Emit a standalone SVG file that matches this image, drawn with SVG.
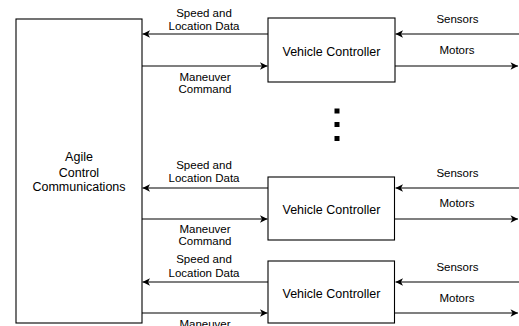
<svg xmlns="http://www.w3.org/2000/svg" width="519" height="326" viewBox="0 0 519 326">
<style>
.box{fill:#fff;stroke:#000;stroke-width:1.1}
.ln{fill:none;stroke:#000;stroke-width:1.2;marker-end:url(#ah)}
.lbl{font-family:"Liberation Sans",Arial,sans-serif;font-size:11.5px;fill:#000;text-anchor:middle}
.big{font-family:"Liberation Sans",Arial,sans-serif;font-size:12.5px;fill:#000;text-anchor:middle}
</style>
<defs>
<marker id="ah" markerUnits="userSpaceOnUse" markerWidth="10" markerHeight="10" viewBox="-8 -5 10 10" refX="0" refY="0" orient="auto">
<path d="M0,0 L-7.5,-3.8 L-5.5,0 L-7.5,3.8 Z" fill="#000"/>
</marker>
</defs>
<rect width="519" height="326" fill="#fff"/>
<g id="connectors">
<line class="ln" x1="268" y1="34" x2="142.5" y2="34"/>
<line class="ln" x1="142" y1="66" x2="267.5" y2="66"/>
<line class="ln" x1="519" y1="34" x2="395.5" y2="34"/>
<line class="ln" x1="395" y1="66" x2="518" y2="66"/>
<line class="ln" x1="268" y1="188" x2="142.5" y2="188"/>
<line class="ln" x1="142" y1="219" x2="267.5" y2="219"/>
<line class="ln" x1="519" y1="188" x2="395.5" y2="188"/>
<line class="ln" x1="395" y1="219" x2="518" y2="219"/>
<line class="ln" x1="268" y1="282" x2="142.5" y2="282"/>
<line class="ln" x1="142" y1="313" x2="267.5" y2="313"/>
<line class="ln" x1="519" y1="282" x2="395.5" y2="282"/>
<line class="ln" x1="395" y1="313" x2="518" y2="313"/>
<g id="connector-labels">
<text class="lbl" x="204" y="16.6">Speed and</text>
<text class="lbl" x="204" y="30.1">Location Data</text>
<text class="lbl" x="205" y="81.1">Maneuver</text>
<text class="lbl" x="205" y="93.1">Command</text>
<text class="lbl" x="457.5" y="23.1">Sensors</text>
<text class="lbl" x="457" y="54.1">Motors</text>
<text class="lbl" x="204" y="169.1">Speed and</text>
<text class="lbl" x="204" y="182.1">Location Data</text>
<text class="lbl" x="205" y="233.1">Maneuver</text>
<text class="lbl" x="205" y="245.1">Command</text>
<text class="lbl" x="457.5" y="177.1">Sensors</text>
<text class="lbl" x="457" y="207.1">Motors</text>
<text class="lbl" x="204" y="263.1">Speed and</text>
<text class="lbl" x="204" y="277.1">Location Data</text>
<text class="lbl" x="205" y="328.1">Maneuver</text>
<text class="lbl" x="457.5" y="271.1">Sensors</text>
<text class="lbl" x="457" y="302.1">Motors</text>
</g>
</g>
<g id="agile">
<rect class="box" x="16" y="19" width="126" height="304"/>
<text class="big" x="79" y="161.2">Agile</text>
<text class="big" x="79" y="176.5">Control</text>
<text class="big" x="79" y="191.2">Communications</text>
</g>
<g id="vc1">
<rect class="box" x="268" y="18" width="127" height="64"/>
<text class="big" x="331.5" y="55.5">Vehicle Controller</text>
</g>
<g id="vc2">
<rect class="box" x="268" y="177" width="126.5" height="63"/>
<text class="big" x="331.5" y="213.5">Vehicle Controller</text>
</g>
<g id="vc3">
<rect class="box" x="268" y="261" width="126.5" height="62"/>
<text class="big" x="331.5" y="297.5">Vehicle Controller</text>
</g>
<g id="ellipsis">
<rect x="334.5" y="108.5" width="5" height="5" fill="#000"/>
<rect x="334.5" y="122" width="5" height="5" fill="#000"/>
<rect x="334.5" y="136" width="5" height="5" fill="#000"/>
</g>
</svg>
